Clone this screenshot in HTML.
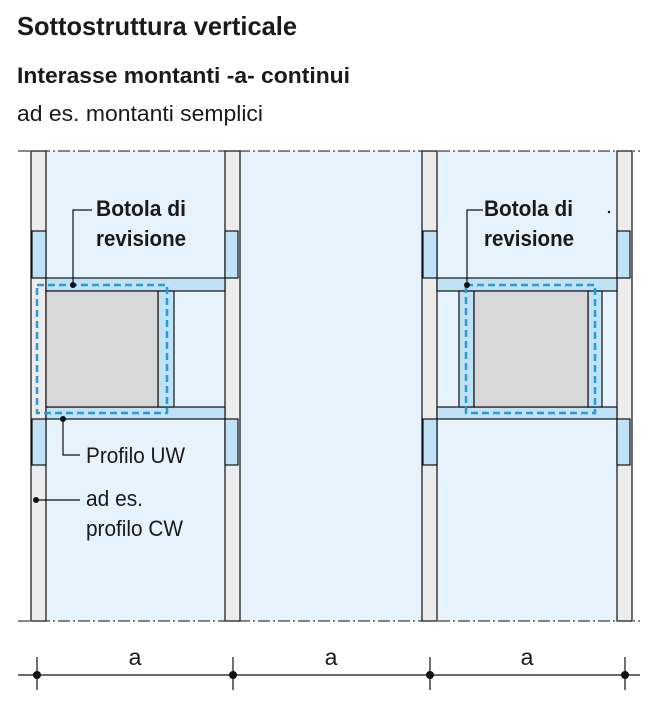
<!DOCTYPE html>
<html><head><meta charset="utf-8"><style>
body{margin:0;background:#fff;width:670px;height:707px;overflow:hidden}
svg{display:block}
text{font-family:"Liberation Sans",Arial,sans-serif;fill:#1a1a1a}
</style></head><body>
<svg width="670" height="707" viewBox="0 0 670 707">
<text x="17" y="35" font-size="26" font-weight="bold" textLength="280" lengthAdjust="spacingAndGlyphs">Sottostruttura verticale</text>
<text x="17" y="83" font-size="22" font-weight="bold" textLength="333" lengthAdjust="spacingAndGlyphs">Interasse montanti -a- continui</text>
<text x="17" y="121" font-size="22" textLength="246" lengthAdjust="spacingAndGlyphs">ad es. montanti semplici</text>

<rect x="46" y="151" width="179" height="470" fill="#e6f3fc"/>
<rect x="240" y="151" width="182" height="470" fill="#e6f3fc"/>
<rect x="437" y="151" width="180" height="470" fill="#e6f3fc"/>
<g fill="#ececec" stroke="#111" stroke-width="1.2">
<rect x="31" y="151" width="15" height="470"/>
<rect x="225" y="151" width="15" height="470"/>
<rect x="422" y="151" width="15" height="470"/>
<rect x="617" y="151" width="15" height="470"/>
</g>
<g fill="#bfe2f7" stroke="#111" stroke-width="1.2">
<rect x="32" y="231" width="14" height="47"/><rect x="225" y="231" width="13" height="47"/>
<rect x="32" y="419" width="14" height="46"/><rect x="225" y="419" width="13" height="46"/>
<rect x="423" y="231" width="14" height="47"/><rect x="617" y="231" width="13" height="47"/>
<rect x="423" y="419" width="14" height="46"/><rect x="617" y="419" width="13" height="46"/>
<rect x="46" y="278" width="179" height="13"/><rect x="46" y="407" width="179" height="12"/>
<rect x="437" y="278" width="180" height="13"/><rect x="437" y="407" width="180" height="12"/>
<rect x="158" y="291" width="16" height="116"/>
<rect x="459" y="291" width="15" height="116"/><rect x="588" y="291" width="14" height="116"/>
</g>
<g fill="#d8d8d8" stroke="#111" stroke-width="1.2">
<rect x="46" y="291" width="112" height="116"/>
<rect x="474" y="291" width="114" height="116"/>
</g>
<g fill="none" stroke="#2a9ad8" stroke-width="2.5" stroke-dasharray="7,4">
<rect x="37" y="285" width="130" height="128"/>
<rect x="466" y="285" width="129" height="128"/>
</g>
<g stroke="#111" stroke-width="1" stroke-dasharray="12,3,2,3">
<line x1="18" y1="151" x2="640" y2="151"/><line x1="18" y1="621" x2="640" y2="621"/>
</g>
<g stroke="#111" stroke-width="1.2" fill="none">
<polyline points="73,285 73,210 92,210"/>
<polyline points="467,285 467,210 483,210"/>
<polyline points="63,419 63,455 80,455"/>
<polyline points="36,500 80,500"/>
</g>
<g fill="#111">
<circle cx="73" cy="285" r="3"/><circle cx="467" cy="285" r="3"/>
<circle cx="63" cy="419" r="3"/><circle cx="36" cy="500" r="3"/>
<circle cx="609" cy="212" r="1.2"/>
</g>
<g font-size="22" font-weight="bold">
<text x="96" y="216" textLength="90" lengthAdjust="spacingAndGlyphs">Botola di</text>
<text x="96" y="246" textLength="90" lengthAdjust="spacingAndGlyphs">revisione</text>
<text x="484" y="216" textLength="89" lengthAdjust="spacingAndGlyphs">Botola di</text>
<text x="484" y="246" textLength="90" lengthAdjust="spacingAndGlyphs">revisione</text>
</g>
<g font-size="22">
<text x="86" y="463" textLength="99" lengthAdjust="spacingAndGlyphs">Profilo UW</text>
<text x="86" y="506" textLength="57" lengthAdjust="spacingAndGlyphs">ad es.</text>
<text x="86" y="536" textLength="97" lengthAdjust="spacingAndGlyphs">profilo CW</text>
</g>
<g stroke="#111" stroke-width="1.2">
<line x1="18" y1="675" x2="640" y2="675"/>
<line x1="37" y1="657" x2="37" y2="690"/><line x1="233" y1="657" x2="233" y2="690"/>
<line x1="430" y1="657" x2="430" y2="690"/><line x1="625" y1="657" x2="625" y2="690"/>
</g>
<g fill="#111"><circle cx="37" cy="675" r="4"/><circle cx="233" cy="675" r="4"/><circle cx="430" cy="675" r="4"/><circle cx="625" cy="675" r="4"/></g>
<g font-size="23" text-anchor="middle">
<text x="135" y="665">a</text><text x="331" y="665">a</text><text x="527" y="665">a</text>
</g>
</svg>
</body></html>
